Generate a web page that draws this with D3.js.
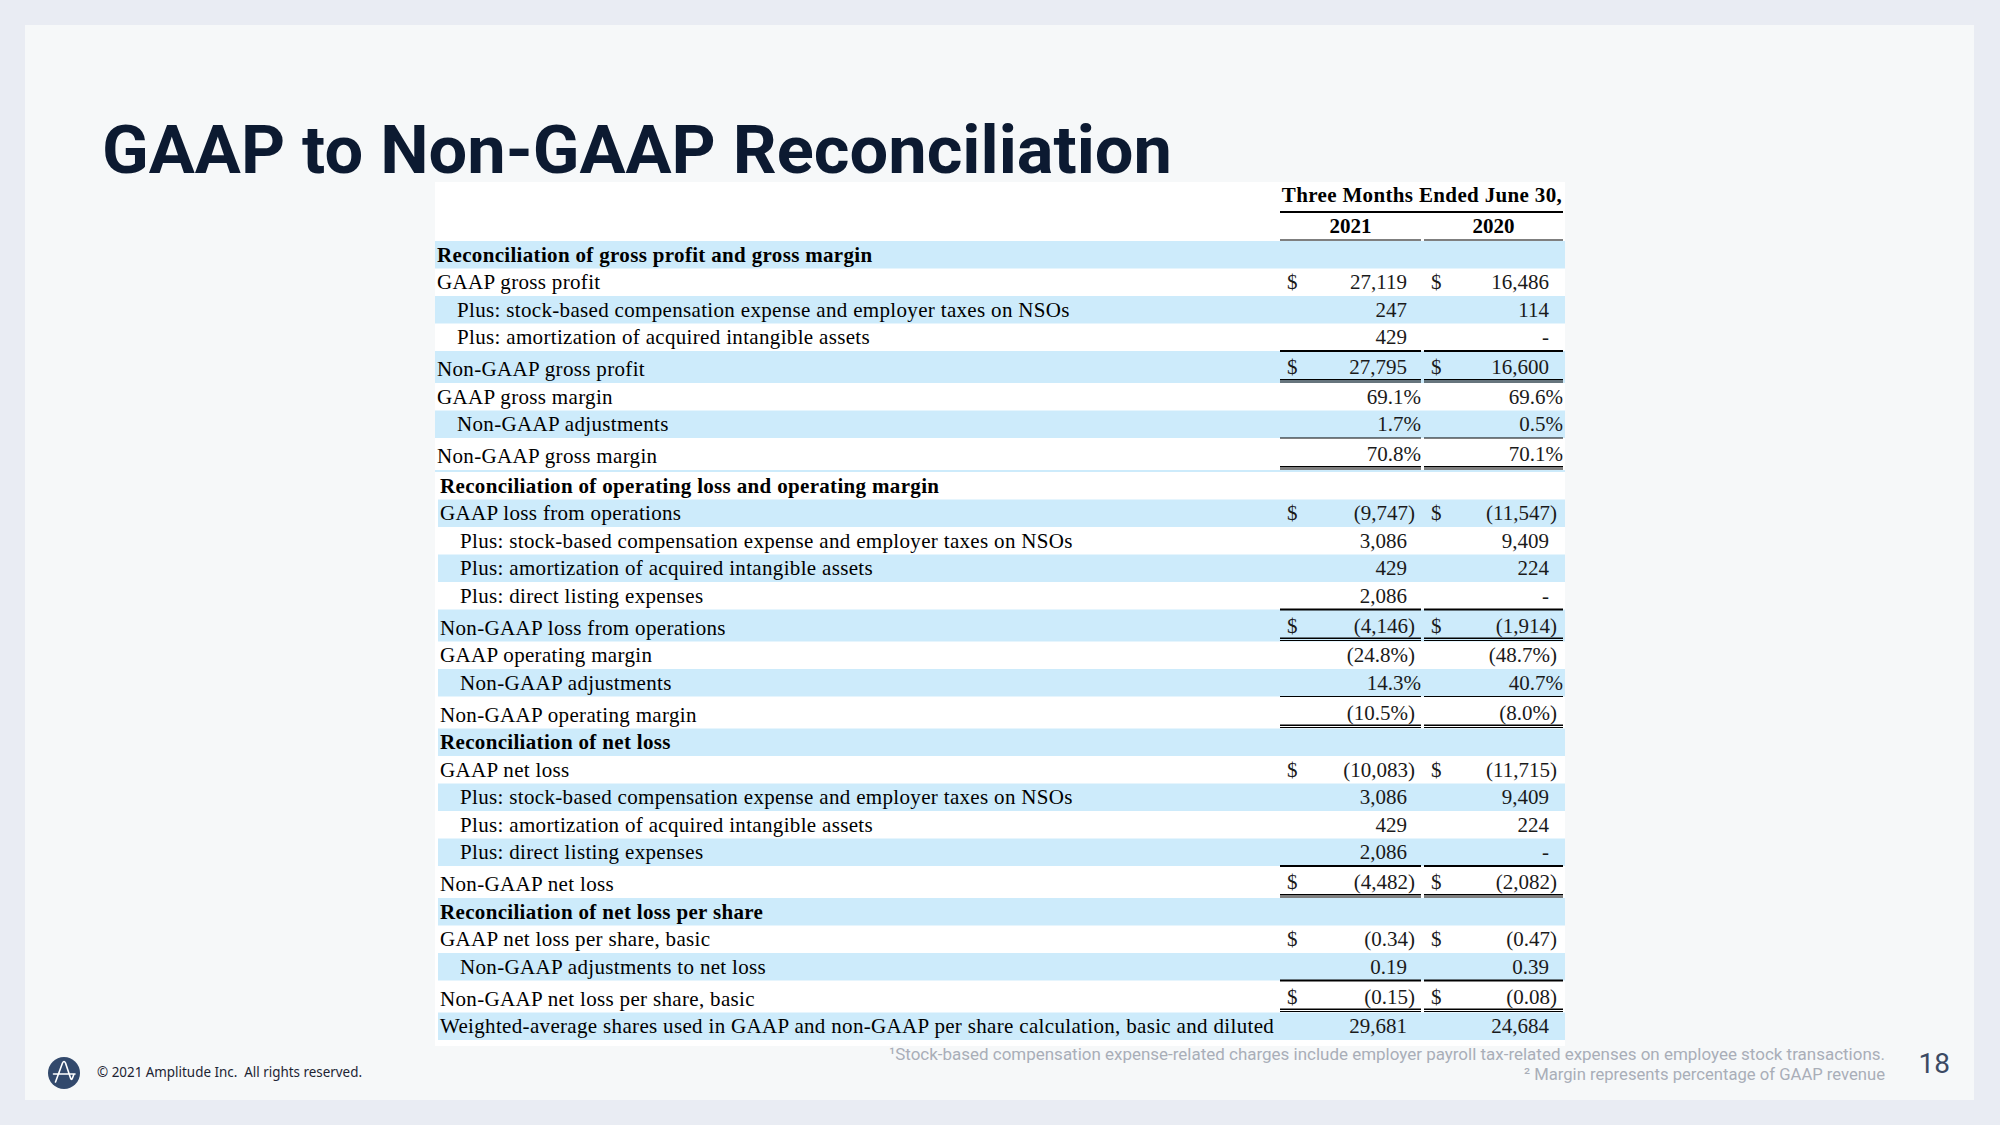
<!DOCTYPE html>
<html>
<head>
<meta charset="utf-8">
<script src="https://cdn.jsdelivr.net/npm/d3@7"></script>
<style>
  body { margin: 0; background: #e9ecf3; }
</style>
</head>
<body>
<script>
// row labels of the reconciliation table
var labels = [
  "Reconciliation of gross profit and gross margin",
  "GAAP gross profit",
  "Plus: stock-based compensation expense and employer taxes on NSOs",
  "Plus: amortization of acquired intangible assets",
  "Non-GAAP gross profit",
  "GAAP gross margin",
  "Non-GAAP adjustments",
  "Non-GAAP gross margin",
  "Reconciliation of operating loss and operating margin",
  "GAAP loss from operations",
  "Plus: stock-based compensation expense and employer taxes on NSOs",
  "Plus: amortization of acquired intangible assets",
  "Plus: direct listing expenses",
  "Non-GAAP loss from operations",
  "GAAP operating margin",
  "Non-GAAP adjustments",
  "Non-GAAP operating margin",
  "Reconciliation of net loss",
  "GAAP net loss",
  "Plus: stock-based compensation expense and employer taxes on NSOs",
  "Plus: amortization of acquired intangible assets",
  "Plus: direct listing expenses",
  "Non-GAAP net loss",
  "Reconciliation of net loss per share",
  "GAAP net loss per share, basic",
  "Non-GAAP adjustments to net loss",
  "Non-GAAP net loss per share, basic",
  "Weighted-average shares used in GAAP and non-GAAP per share calculation, basic and diluted"
];

// what each row is: section heading, plain line, added item, total
var rowKind = ["section","line","add","add","total","line","add","total",
  "section","line","add","add","add","total","line","add","total",
  "section","line","add","add","add","total",
  "section","line","add","total","line"];

// rows carrying a $ sign
var dollarRows = [1, 4, 9, 13, 18, 22, 24, 26];

var values2021 = ["", "27,119", "247", "429", "27,795", "69.1%", "1.7%", "70.8%",
  "", "(9,747)", "3,086", "429", "2,086", "(4,146)", "(24.8%)", "14.3%", "(10.5%)",
  "", "(10,083)", "3,086", "429", "2,086", "(4,482)",
  "", "(0.34)", "0.19", "(0.15)", "29,681"];

var values2020 = ["", "16,486", "114", "-", "16,600", "69.6%", "0.5%", "70.1%",
  "", "(11,547)", "9,409", "224", "-", "(1,914)", "(48.7%)", "40.7%", "(8.0%)",
  "", "(11,715)", "9,409", "224", "-", "(2,082)",
  "", "(0.47)", "0.39", "(0.08)", "24,684"];

var periodTitle = "Three Months Ended June 30,";
var years = ["2021", "2020"];

var footnotes = [
  "\u00B9Stock-based compensation expense-related charges include employer payroll tax-related expenses on employee stock transactions.",
  "\u00B2 Margin represents percentage of GAAP revenue"
];

function main() {
  var w = 2000, h = 1125;
  var blue = "#cdebfb";
  var serif = "'Liberation Serif', 'Times New Roman', serif";

  var svg = d3.select("body").append("svg")
    .attr("width", w).attr("height", h)
    .style("display", "block");

  // slide panel
  svg.append("rect").attr("width", w).attr("height", h).attr("fill", "#e9ecf3");
  svg.append("rect").attr("x", 25).attr("y", 25).attr("width", 1949).attr("height", 1075)
    .attr("fill", "#f6f8f9");

  // title
  svg.append("text")
    .attr("x", 102).attr("y", 173)
    .attr("font-family", "Roboto, sans-serif").attr("font-weight", 700)
    .attr("font-size", 66).attr("fill", "#0c1a31")
    .attr("textLength", 1070).attr("lengthAdjust", "spacingAndGlyphs")
    .text("GAAP to Non-GAAP Reconciliation");

  // table background
  svg.append("rect").attr("x", 435).attr("y", 182).attr("width", 1130).attr("height", 864)
    .attr("fill", "#ffffff");

  // row heights from their kind, then a positional scale for the rows
  var n = labels.length;
  var heights = rowKind.map(function(k) { return k == "total" ? 32 : 27.5; });
  var section = [];
  var s = -1;
  rowKind.forEach(function(k) { if (k == "section") s++; section.push(s); });
  var tops = [];
  var acc = 241;
  for (var i = 0; i < n; i++) {
    if (i > 0 && rowKind[i] == "section" && section[i] == 1) acc += 2;
    tops.push(acc);
    acc += heights[i];
  }
  var yTop = d3.scaleOrdinal().domain(d3.range(n)).range(tops);
  var yBot = function(i) { return yTop(i) + heights[i]; };

  // column scale: the two year columns
  var col = d3.scaleOrdinal().domain(years).range([1280, 1424]);
  var colW = d3.scaleOrdinal().domain(years).range([141, 139]);

  var striped = function(i) { return i < 8 ? i % 2 == 0 : i % 2 == 1; };

  // stripes
  svg.selectAll("rect.band")
    .data(d3.range(n).filter(striped))
    .enter().append("rect")
    .attr("class", "band")
    .attr("x", function(i) { return section[i] > 0 ? 438 : 435; })
    .attr("y", function(i) { return yTop(i); })
    .attr("width", function(i) { return 1565 - (section[i] > 0 ? 438 : 435); })
    .attr("height", function(i) { return heights[i]; })
    .attr("fill", blue);
  // thin strip between first and second section
  svg.append("rect").attr("x", 435).attr("y", yBot(7)).attr("width", 1130)
    .attr("height", yTop(8) - yBot(7)).attr("fill", blue);

  // header
  svg.append("text")
    .attr("x", 1422).attr("y", 202).attr("text-anchor", "middle")
    .attr("font-family", serif).attr("font-weight", 700).attr("font-size", 21)
    .attr("letter-spacing", 0.35)
    .text(periodTitle);
  svg.append("rect").attr("x", 1280).attr("y", 211).attr("width", 283).attr("height", 2).attr("fill", "#000");
  svg.selectAll("text.year")
    .data(years).enter().append("text")
    .attr("class", "year")
    .attr("x", function(d) { return col(d) + colW(d) / 2; })
    .attr("y", 233).attr("text-anchor", "middle")
    .attr("font-family", serif).attr("font-weight", 700).attr("font-size", 21)
    .text(function(d) { return d; });
  svg.selectAll("rect.yearRule")
    .data(years).enter().append("rect")
    .attr("class", "yearRule")
    .attr("x", function(d) { return col(d); })
    .attr("y", yTop(0) - 1.5).attr("width", function(d) { return colW(d); })
    .attr("height", 1).attr("fill", "#000");

  // labels
  svg.selectAll("text.label")
    .data(d3.range(n)).enter().append("text")
    .attr("class", "label")
    .attr("x", function(i) { return 437 + (section[i] > 0 ? 3 : 0) + (rowKind[i] == "add" ? 20 : 0); })
    .attr("y", function(i) { return yBot(i) - 7; })
    .attr("font-family", serif).attr("font-size", 21)
    .attr("font-weight", function(i) { return rowKind[i] == "section" ? 700 : 400; })
    .attr("letter-spacing", 0.33)
    .attr("fill", "#000")
    .text(function(i) { return labels[i]; });

  // values: digits line up, a closing paren hangs a little, percent hangs more
  var cells = [];
  years.forEach(function(yr, c) {
    var vals = c == 0 ? values2021 : values2020;
    vals.forEach(function(v, i) { if (v) cells.push({ yr: yr, i: i, v: v }); });
  });
  var rightOf = function(d) {
    var end = col(d.yr) + colW(d.yr);
    if (/%$/.test(d.v)) return end;
    if (/\)$/.test(d.v)) return end - 6;
    return end - 14;
  };
  var baseOf = function(i) { return yBot(i) - (rowKind[i] == "total" ? 9 : 7); };
  svg.selectAll("text.value")
    .data(cells).enter().append("text")
    .attr("class", "value")
    .attr("x", rightOf)
    .attr("y", function(d) { return baseOf(d.i); })
    .attr("text-anchor", "end")
    .attr("font-family", serif).attr("font-size", 21).attr("fill", "#1a1a1a")
    .text(function(d) { return d.v; });

  // dollar signs
  var dollars = [];
  years.forEach(function(yr) { dollarRows.forEach(function(i) { dollars.push({ yr: yr, i: i }); }); });
  svg.selectAll("text.dollar")
    .data(dollars).enter().append("text")
    .attr("class", "dollar")
    .attr("x", function(d) { return col(d.yr) + 7; })
    .attr("y", function(d) { return baseOf(d.i); })
    .attr("font-family", serif).attr("font-size", 21).attr("fill", "#1a1a1a")
    .text("$");

  // rules: single above each total, double below it
  var totals = d3.range(n).filter(function(i) { return rowKind[i] == "total"; });
  var rules = [];
  totals.forEach(function(i) {
    var pct = /%/.test(values2021[i]);
    years.forEach(function(yr) {
      rules.push({ yr: yr, y: yTop(i) - (pct ? 0.5 : 1), t: pct ? 1 : 2 });
      rules.push({ yr: yr, y: yBot(i) - 4, t: 1.5 });
      rules.push({ yr: yr, y: yBot(i) - 1.5, t: 1 });
    });
  });
  svg.selectAll("rect.rule")
    .data(rules).enter().append("rect")
    .attr("class", "rule")
    .attr("x", function(d) { return col(d.yr); })
    .attr("y", function(d) { return d.y; })
    .attr("width", function(d) { return colW(d.yr); })
    .attr("height", function(d) { return d.t; })
    .attr("fill", "#000");

  // footer: logo and copyright
  svg.append("circle").attr("cx", 64).attr("cy", 1073).attr("r", 16).attr("fill", "#32496c");
  svg.append("path")
    .attr("d", "M55.5 1082 L62.5 1063 Q64 1060 65.5 1063 L70.5 1078 Q71.5 1081 72.5 1078 L74 1074 M53.5 1074 L75 1074")
    .attr("fill", "none").attr("stroke", "#fff").attr("stroke-width", 1.6)
    .attr("stroke-linecap", "round").attr("stroke-linejoin", "round");
  svg.append("text")
    .attr("x", 97).attr("y", 1077)
    .attr("font-family", "'Noto Sans', sans-serif").attr("font-size", 14).attr("fill", "#1d2433")
    .attr("textLength", 265).attr("lengthAdjust", "spacingAndGlyphs")
    .text("\u00A9 2021 Amplitude Inc.\u00A0 All rights reserved.");

  // footnotes, right aligned against the page number
  var fnStart = [889, 1524];
  svg.selectAll("text.note")
    .data(footnotes).enter().append("text")
    .attr("class", "note")
    .attr("x", function(d, i) { return fnStart[i]; })
    .attr("y", function(d, i) { return 1060 + i * 20; })
    .attr("font-family", "Roboto, sans-serif").attr("font-size", 17).attr("fill", "#a9aeb8")
    .attr("textLength", function(d, i) { return 1885 - fnStart[i]; })
    .attr("lengthAdjust", "spacingAndGlyphs")
    .text(function(d) { return d; });

  // page number
  svg.append("text")
    .attr("x", 1950).attr("y", 1073).attr("text-anchor", "end")
    .attr("font-family", "Roboto, sans-serif").attr("font-size", 28).attr("fill", "#3b4a63")
    .text("18");
}

window.onload = function() {
  main();
};
</script>
</body>
</html>
